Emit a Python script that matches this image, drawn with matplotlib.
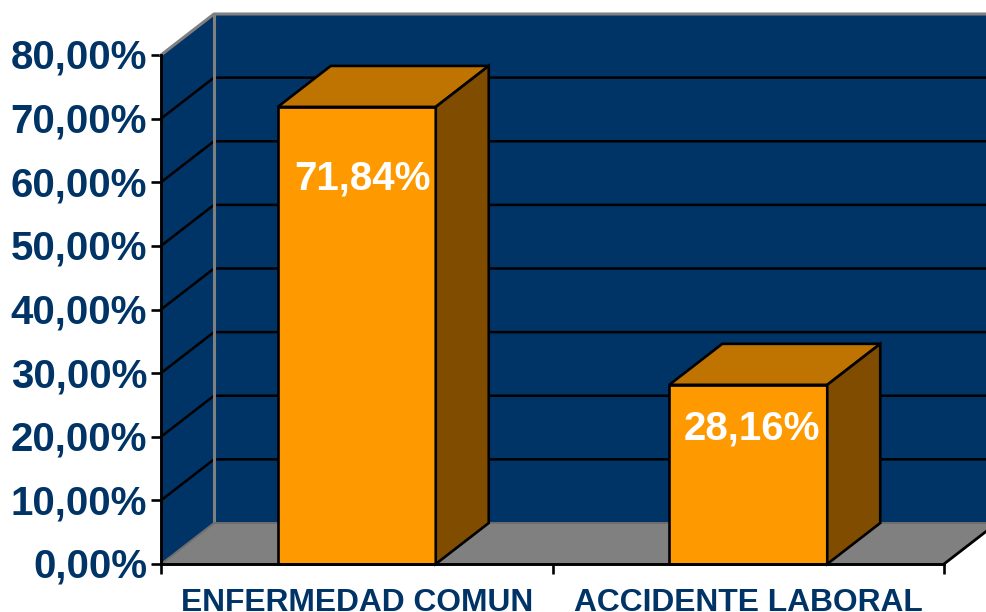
import matplotlib
matplotlib.use("Agg")
import matplotlib.pyplot as plt
from matplotlib.transforms import ScaledTranslation

categories = ["ENFERMEDAD COMUN", "ACCIDENTE LABORAL"]
values = [71.84, 28.16]
value_labels = ["71,84%", "28,16%"]
y_ticks = [0, 10, 20, 30, 40, 50, 60, 70, 80]
y_tick_labels = ["0,00%", "10,00%", "20,00%", "30,00%", "40,00%", "50,00%", "60,00%", "70,00%", "80,00%"]

plt.rcParams['font.family'] = ['Liberation Sans', 'DejaVu Sans']
plt.rcParams['font.weight'] = 'bold'

W, H = 987, 612
fig = plt.figure(figsize=(W / 100, H / 100), dpi=100)
# axes is the front plane of the fake 3d box
ax = fig.add_axes([161 / W, 1 - 564 / H, 783 / W, 509 / H])
ax.set_xlim(0, 2)
ax.set_ylim(0, 80)
ax.patch.set_visible(False)

# depth of the box, in data units
dx = 53 / 391.5
dy = 41 / 6.3625

blue = "#003366"
grey = "#808080"

# walls and floor
ax.fill([dx, 2 + dx, 2 + dx, dx], [dy, dy, 80 + dy, 80 + dy], color=blue, lw=0, clip_on=False, zorder=1)
ax.fill([0, dx, dx, 0], [0, dy, 80 + dy, 80], color=blue, lw=0, clip_on=False, zorder=1)
ax.fill([0, 2, 2 + dx, dx], [0, 0, dy, dy], color=grey, lw=0, clip_on=False, zorder=1)

# gridlines go along the side wall then the back wall
for t in y_ticks[1:-1]:
    ax.plot([0, dx, 2 + dx], [t, t + dy, t + dy], color="black", lw=1.8, clip_on=False, zorder=2)

# box outline
ax.plot([0, dx, 2 + dx], [80, 80 + dy, 80 + dy], color=grey, lw=2.2, clip_on=False, zorder=2)
ax.plot([dx, dx], [dy, 80 + dy], color=grey, lw=2.2, clip_on=False, zorder=2)
ax.plot([0, dx, 2 + dx], [0, dy, dy], color="#6e6e6e", lw=1.4, clip_on=False, zorder=2)
ax.plot([2, 2 + dx], [0, dy], color="black", lw=2, clip_on=False, zorder=2)

# bars
bar_w = 158 / 391.5
offsets_px = [(6, -72), (4, -44)]  # label position relative to top centre of bar
for i, v in enumerate(values):
    x0 = i + 0.5 - bar_w / 2
    x1 = i + 0.5 + bar_w / 2
    ax.fill([x0, x1, x1, x0], [0, 0, v, v], facecolor="#FF9900", edgecolor="black", lw=1.9, clip_on=False, zorder=3)
    ax.fill([x0, x1, x1 + dx, x0 + dx], [v, v, v + dy, v + dy], facecolor="#BF7300", edgecolor="black", lw=1.9, clip_on=False, zorder=3)
    ax.fill([x1, x1 + dx, x1 + dx, x1], [0, dy, v + dy, v], facecolor="#7F4C00", edgecolor="black", lw=1.9, clip_on=False, zorder=3)
    ax.annotate(value_labels[i], (i + 0.5, v),
                xytext=(offsets_px[i][0] * 0.72, offsets_px[i][1] * 0.72), textcoords="offset points",
                ha="center", va="center", color="white", fontsize=29, fontweight="bold", zorder=4)

for s in ["top", "right"]:
    ax.spines[s].set_visible(False)
for s in ["left", "bottom"]:
    ax.spines[s].set_linewidth(2.1)
    ax.spines[s].set_zorder(5)

ax.set_yticks(y_ticks, labels=y_tick_labels)
ax.tick_params(axis="y", length=7.5, width=1.9, pad=2.5, labelsize=29, labelcolor=blue)
ax.set_xticks([0, 1, 2], labels=["", "", ""])
ax.set_xticks([0.5, 1.5], labels=categories, minor=True)
ax.tick_params(axis="x", which="major", length=7.5, width=1.9)
ax.tick_params(axis="x", which="minor", length=0, pad=17.5, labelsize=22.9, labelcolor=blue)

# tick labels sit a bit high in the original
up = ScaledTranslation(0, 1 / 100, fig.dpi_scale_trans)
for lab in ax.get_yticklabels():
    lab.set_transform(lab.get_transform() + up)

fig.savefig("out.png", dpi=100)
